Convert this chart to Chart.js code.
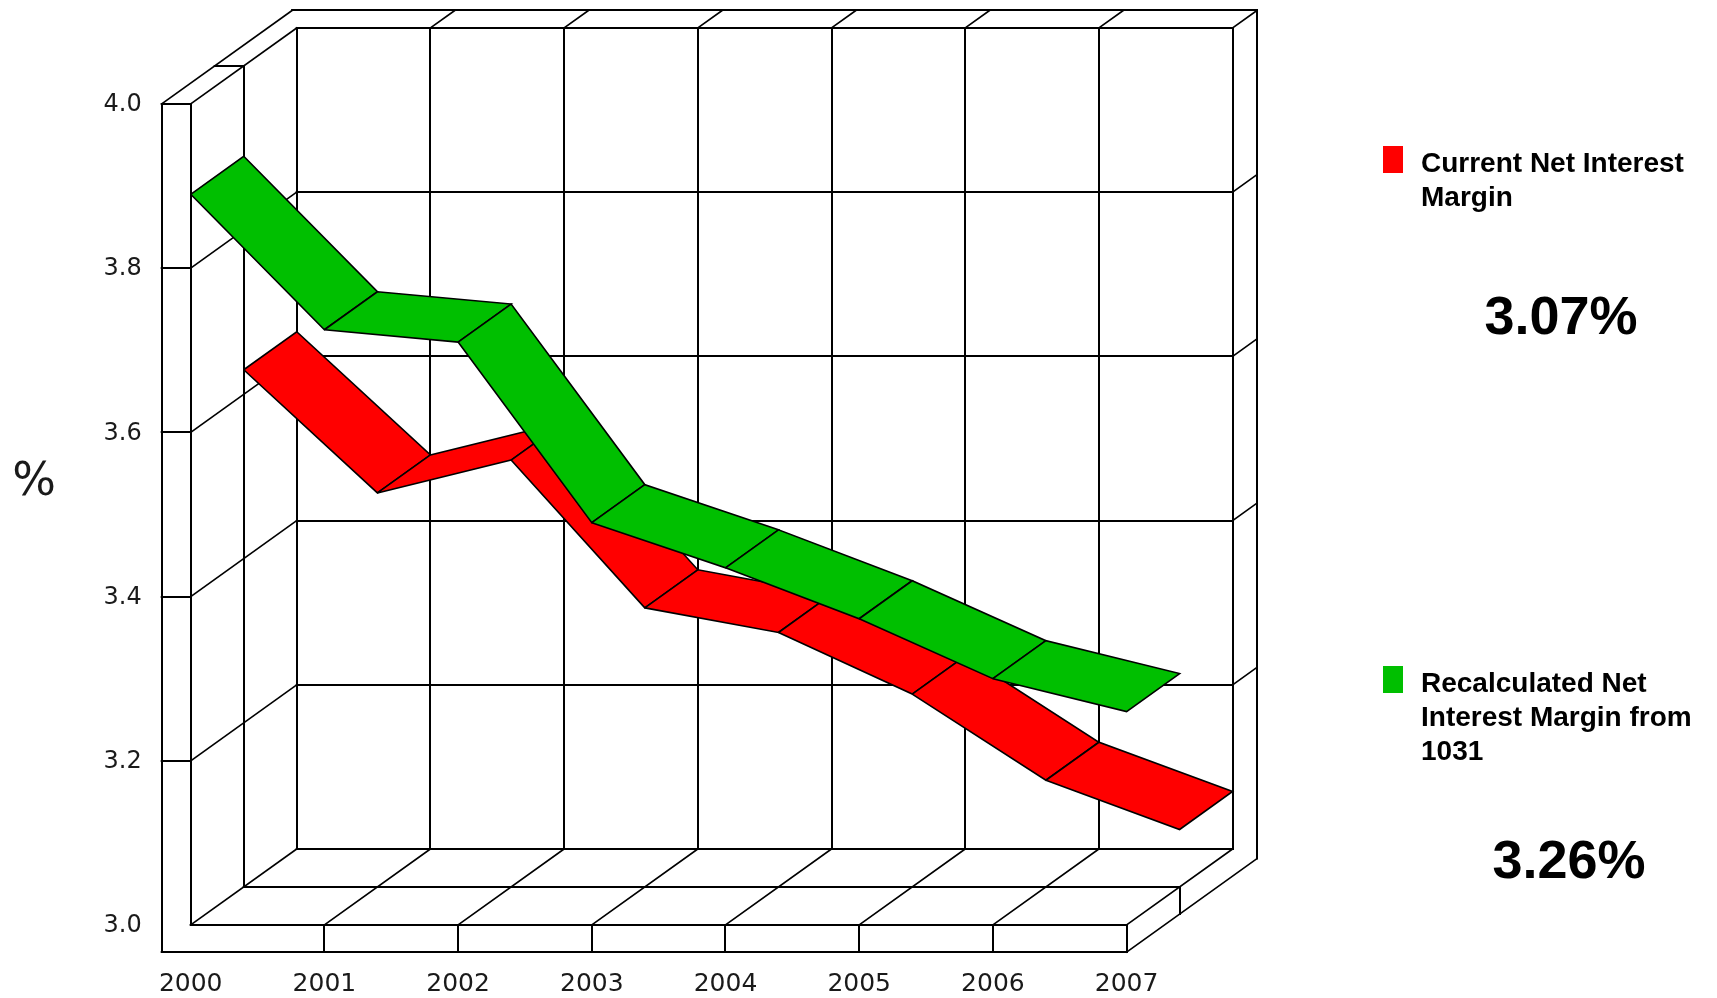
<!DOCTYPE html>
<html>
<head>
<meta charset="utf-8">
<title>Net Interest Margin</title>
<script src="https://cdn.jsdelivr.net/npm/chart.js@4.4.1/dist/chart.umd.min.js"></script>
<style>
  html, body { margin: 0; padding: 0; background: #ffffff; }
  #wrap { position: relative; width: 1717px; height: 998px; overflow: hidden; }
  #wrap canvas { position: absolute; left: 0; top: 0; }
  .swatch { position: absolute; width: 20px; height: 27px; }
  .keytext { position: absolute; font: bold 28px "Liberation Sans", Arial, sans-serif; line-height: 34px; color: #000; white-space: nowrap; }
  .big { position: absolute; font: bold 54px "Liberation Sans", Arial, sans-serif; line-height: 54px; color: #000; white-space: nowrap; transform: translateX(-50%); }
</style>
</head>
<body>
<div id="wrap">
  <canvas id="chart" width="1717" height="998"></canvas>
  <div class="swatch" id="sw0" style="left:1383px;top:146px"></div>
  <div class="keytext" id="key0" style="left:1421px;top:146px"></div>
  <div class="big" id="val0" style="left:1561px;top:288px"></div>
  <div class="swatch" id="sw1" style="left:1383px;top:666px"></div>
  <div class="keytext" id="key1" style="left:1421px;top:666px"></div>
  <div class="big" id="val1" style="left:1569px;top:832px"></div>
</div>
<script>
// ---- data ----
const categories = ['2000', '2001', '2002', '2003', '2004', '2005', '2006', '2007'];
const currentNIM = [3.63, 3.48, 3.52, 3.34, 3.31, 3.235, 3.13, 3.07];
const recalculatedNIM = [3.89, 3.725, 3.71, 3.49, 3.435, 3.373, 3.30, 3.26];
const yTicks = [3.0, 3.2, 3.4, 3.6, 3.8, 4.0];
const seriesNames = [
  ['Current Net Interest', 'Margin'],
  ['Recalculated Net', 'Interest Margin from', '1031']
];
const seriesColors = ['#ff0000', '#00bf00'];
const axisTitle = '%';

// ---- 3D box geometry (in data units) ----
const DEPTH_X = 0.793;   // horizontal shift of a full box depth, in category units
const DEPTH_Y = 0.0926;  // vertical shift of a full box depth, in value units
const WALL = 0.217;      // left wall thickness, category units
const FLOOR = 0.033;     // floor thickness, value units
const SLAB = 0.23;       // back wall thickness, as a fraction of box depth
const VMIN = yTicks[0];
const VMAX = yTicks[yTicks.length - 1];
const N = categories.length - 1;

function at(i, v, d) {
  return { x: i + DEPTH_X * d, y: v + DEPTH_Y * d };
}

// one filled quad per category interval, laid at depth d0..d1
function ribbon(values, d0, d1, color, baseOrder) {
  const sets = [];
  for (let i = 0; i < values.length - 1; i++) {
    const a = values[i], b = values[i + 1];
    sets.push({
      data: [at(i, a, d0), at(i + 1, b, d0), at(i + 1, b, d1), at(i, a, d1), at(i, a, d0)],
      backgroundColor: color,
      borderColor: '#000000',
      borderWidth: 1.6,
      fill: 'shape',
      pointRadius: 0,
      pointHoverRadius: 0,
      tension: 0,
      order: baseOrder - i
    });
  }
  return sets;
}

// frame of the box: walls, floor and grid
const boxFrame = {
  id: 'boxFrame',
  beforeDatasetsDraw(chart) {
    const ctx = chart.ctx, sx = chart.scales.x, sy = chart.scales.y;
    const P = (i, v, d) => [sx.getPixelForValue(i + DEPTH_X * d), sy.getPixelForValue(v + DEPTH_Y * d)];
    const line = (a, b, w) => {
      let [x1, y1] = a, [x2, y2] = b;
      // keep horizontal and vertical rules on whole pixels
      if (Math.abs(x1 - x2) < 0.01) { x1 = x2 = Math.round(x1); }
      if (Math.abs(y1 - y2) < 0.01) { y1 = y2 = Math.round(y1); }
      ctx.lineWidth = w;
      ctx.beginPath();
      ctx.moveTo(x1, y1);
      ctx.lineTo(x2, y2);
      ctx.stroke();
    };
    const STRAIGHT = 2, SLANT = 1.6;
    const inner = yTicks.slice(1, -1);
    ctx.save();
    ctx.strokeStyle = '#000000';
    ctx.lineCap = 'square';

    // left wall, front face
    line(P(-WALL, VMIN - FLOOR, 0), P(-WALL, VMAX, 0), STRAIGHT);
    line(P(0, VMIN, 0), P(0, VMAX, 0), STRAIGHT);
    line(P(-WALL, VMAX, 0), P(0, VMAX, 0), STRAIGHT);
    inner.forEach(v => line(P(-WALL, v, 0), P(0, v, 0), STRAIGHT));

    // left wall, top face
    line(P(-WALL, VMAX, 0), P(-WALL, VMAX, 1 + SLAB), SLANT);
    line(P(0, VMAX, 0), P(0, VMAX, 1), SLANT);
    line(P(-WALL, VMAX, 0.5), P(0, VMAX, 0.5), STRAIGHT);

    // left wall, inner face
    inner.forEach(v => line(P(0, v, 0), P(0, v, 1), SLANT));
    line(P(0, VMIN, 0.5), P(0, VMAX, 0.5), STRAIGHT);

    // back wall grid
    yTicks.forEach(v => line(P(0, v, 1), P(N, v, 1), STRAIGHT));
    for (let i = 0; i <= N; i++) line(P(i, VMIN, 1), P(i, VMAX, 1), STRAIGHT);

    // back wall, top and right faces
    line(P(-WALL, VMAX, 1 + SLAB), P(N, VMAX, 1 + SLAB), STRAIGHT);
    for (let i = 1; i <= N; i++) line(P(i, VMAX, 1), P(i, VMAX, 1 + SLAB), SLANT);
    line(P(N, VMIN - FLOOR, 1 + SLAB), P(N, VMAX, 1 + SLAB), STRAIGHT);
    inner.forEach(v => line(P(N, v, 1), P(N, v, 1 + SLAB), SLANT));

    // floor, top face
    line(P(0, VMIN, 0), P(N, VMIN, 0), STRAIGHT);
    line(P(0, VMIN, 0.5), P(N, VMIN, 0.5), STRAIGHT);
    for (let i = 0; i <= N; i++) line(P(i, VMIN, 0), P(i, VMIN, 1), SLANT);

    // floor, front face
    line(P(-WALL, VMIN - FLOOR, 0), P(N, VMIN - FLOOR, 0), STRAIGHT);
    for (let i = 1; i <= N; i++) line(P(i, VMIN, 0), P(i, VMIN - FLOOR, 0), STRAIGHT);

    // floor, right face
    line(P(N, VMIN - FLOOR, 0), P(N, VMIN - FLOOR, 1 + SLAB), SLANT);
    line(P(N, VMIN, 0.5), P(N, VMIN - FLOOR, 0.5), STRAIGHT);
    ctx.restore();
  },
  afterDraw(chart) {
    const ctx = chart.ctx, sx = chart.scales.x, sy = chart.scales.y;
    ctx.save();
    ctx.fillStyle = '#1a1a1a';
    // value axis labels, on the front face of the left wall
    ctx.font = '24px "DejaVu Sans", Verdana, sans-serif';
    ctx.textAlign = 'right';
    ctx.textBaseline = 'middle';
    const labelX = sx.getPixelForValue(-WALL) - 20;
    yTicks.forEach(v => ctx.fillText(v.toFixed(1), labelX, sy.getPixelForValue(v) + 1));
    // category labels under the floor
    ctx.font = '25px "DejaVu Sans", Verdana, sans-serif';
    ctx.textAlign = 'center';
    const labelY = sy.getPixelForValue(VMIN - FLOOR) + 32;
    categories.forEach((c, i) => ctx.fillText(c, sx.getPixelForValue(i), labelY));
    // axis title
    ctx.font = '46px "DejaVu Sans", Verdana, sans-serif';
    ctx.fillText(axisTitle, 34, 483);
    ctx.restore();
  }
};

// scale ranges chosen so the box sits in the left part of the canvas
const X_UNIT = 133.7, Y_UNIT = 821;
const X0_PX = 190.7, V0_PX = 925;
const W = 1717, H = 998;
const xMin = -X0_PX / X_UNIT, xMax = xMin + W / X_UNIT;
const yMin = VMIN - (H - V0_PX) / Y_UNIT, yMax = yMin + H / Y_UNIT;

const datasets = [].concat(
  ribbon(currentNIM, 0.5, 1.0, seriesColors[0], 100),
  ribbon(recalculatedNIM, 0.0, 0.5, seriesColors[1], 50)
);

new Chart(document.getElementById('chart'), {
  type: 'line',
  data: { datasets },
  options: {
    responsive: false,
    animation: false,
    events: [],
    layout: { padding: 0 },
    scales: {
      x: { type: 'linear', display: false, min: xMin, max: xMax },
      y: { type: 'linear', display: false, min: yMin, max: yMax }
    },
    plugins: {
      legend: { display: false },
      tooltip: { enabled: false }
    },
    elements: { line: { borderJoinStyle: 'miter' } }
  },
  plugins: [boxFrame]
});

// legend and closing values
const lastValues = [currentNIM[currentNIM.length - 1], recalculatedNIM[recalculatedNIM.length - 1]];
for (let s = 0; s < 2; s++) {
  document.getElementById('sw' + s).style.background = seriesColors[s];
  document.getElementById('key' + s).innerHTML = seriesNames[s].join('<br>');
  document.getElementById('val' + s).textContent = lastValues[s].toFixed(2) + '%';
}
</script>
</body>
</html>
